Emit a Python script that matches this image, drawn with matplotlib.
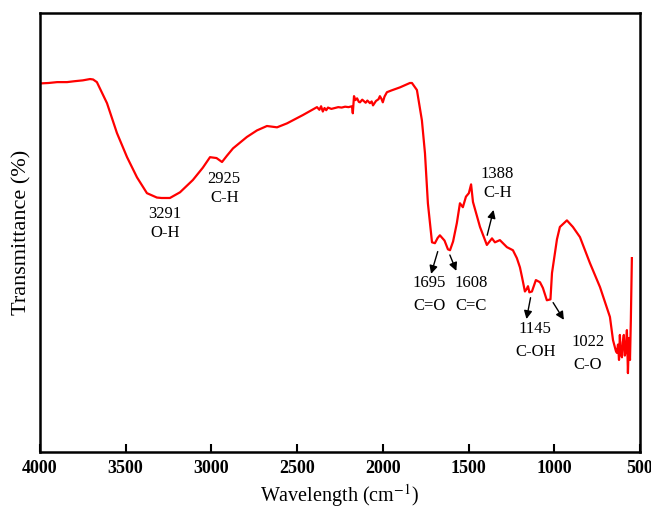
import matplotlib
matplotlib.use("Agg")
import matplotlib.pyplot as plt

plt.rcParams['font.family'] = ['Liberation Serif', 'DejaVu Serif']
plt.rcParams['mathtext.fontset'] = 'stix'

# FTIR spectrum (wavenumber cm-1, transmittance %)
wavenumber = [4000, 3950, 3900, 3842, 3800, 3750, 3708, 3690, 3668, 3640, 3609, 3551,
              3492, 3434, 3376, 3318, 3291, 3242, 3183, 3108, 3050, 3008, 2970,
              2938, 2910, 2874, 2793, 2734, 2676, 2617, 2559, 2466, 2384, 2370,
              2360, 2350, 2340, 2330, 2320, 2300, 2280, 2260, 2240, 2220, 2200,
              2180, 2175, 2168, 2160, 2150, 2140, 2133, 2120, 2100, 2090, 2075,
              2065, 2057, 2040, 2025, 2017, 2008, 2000, 1990, 1976, 1950, 1900,
              1860, 1842, 1830, 1801, 1772, 1754, 1737, 1713, 1696, 1680, 1667,
              1640, 1620, 1608, 1590, 1568, 1550, 1533, 1515, 1498, 1485, 1474,
              1433, 1393, 1363, 1346, 1317, 1276, 1241, 1218, 1200, 1188, 1171,
              1160, 1153, 1145, 1130, 1107, 1083, 1066, 1043, 1022, 1013, 984,
              967, 926, 891, 850, 792, 733, 675, 657, 640, 634, 628, 622, 617,
              612, 605, 600, 594, 588, 582, 576, 570, 564, 558, 553, 549, 547]
transmittance = [84.0, 84.1, 84.3, 84.3, 84.5, 84.7, 85.0, 84.9, 84.3, 82.0, 79.5, 72.7,
                 67.2, 62.6, 59.0, 58.0, 57.9, 57.9, 59.2, 62.0, 64.8, 67.2, 67.0,
                 66.1, 67.5, 69.2, 71.8, 73.3, 74.3, 74.0, 74.9, 76.8, 78.6, 78.0,
                 78.8, 77.6, 78.4, 77.9, 78.5, 78.2, 78.4, 78.6, 78.5, 78.7, 78.6,
                 78.8, 77.2, 81.1, 80.2, 80.6, 79.8, 79.7, 80.3, 79.6, 80.1, 79.5,
                 79.9, 79.0, 80.0, 80.4, 81.1, 80.5, 79.7, 81.0, 82.0, 82.4, 83.1,
                 83.8, 84.1, 84.1, 82.5, 75.6, 68.1, 56.7, 47.8, 47.6, 48.8, 49.4,
                 48.2, 46.2, 46.0, 48.0, 52.2, 56.7, 55.8, 58.2, 59.0, 61.0, 57.0,
                 51.3, 47.2, 48.7, 47.8, 48.3, 46.7, 46.0, 44.2, 42.1, 39.9, 36.6,
                 37.2, 37.8, 36.4, 36.6, 39.2, 38.7, 37.4, 34.6, 34.8, 40.8, 48.5,
                 51.3, 52.8, 51.3, 49.0, 43.1, 37.6, 30.8, 25.5, 23.0, 22.6, 24.5,
                 21.0, 26.7, 22.5, 21.6, 25.0, 26.7, 22.0, 23.2, 27.8, 18.0, 26.0,
                 21.0, 30.1, 40.0, 44.2]

peak_labels = ["3291\nO-H", "2925\nC-H", "1695\nC=O", "1608\nC=C",
               "1388\nC-H", "1145\nC-OH", "1022\nC-O"]

fig = plt.figure(figsize=(6.51, 5.08), dpi=100)
ax = fig.add_axes([0.0614, 0.110, 0.9216, 0.864])
ax.plot(wavenumber, transmittance, color='#ff0000', lw=1.6)
ax.set_xlim(4000, 500)
ax.set_ylim(0, 100)
ax.set_xticks([4000, 3500, 3000, 2500, 2000, 1500, 1000, 500])
ax.set_yticks([])
ax.tick_params(axis='x', direction='in', length=6, width=1.5, labelsize=13, pad=6)
for lab in ax.get_xticklabels():
    lab.set_fontweight('bold')
for sp in ax.spines.values():
    sp.set_linewidth(1.8)
ax.set_xlabel('Wavelength (cm$^{-1}$)', fontsize=14.5, labelpad=3)
ax.set_ylabel('Transmittance (%)', fontsize=16, labelpad=6)

fs = 12
ax.text(3270, 52.0, peak_labels[0], ha='center', va='center', fontsize=fs, linespacing=1.25)
ax.text(2925, 60.0, peak_labels[1], ha='center', va='center', fontsize=fs, linespacing=1.25)
arrow_kw = dict(arrowstyle='-|>', color='black', lw=1.0, mutation_scale=12)
ax.text(1727, 36.0, peak_labels[2], ha='center', va='center', fontsize=fs, linespacing=1.6)
ax.annotate('', xy=(1723, 40.0), xytext=(1675, 46.3), arrowprops=arrow_kw)
ax.text(1484, 36.0, peak_labels[3], ha='center', va='center', fontsize=fs, linespacing=1.6)
ax.annotate('', xy=(1565, 40.7), xytext=(1615, 45.5), arrowprops=arrow_kw)
ax.text(1330, 61.3, peak_labels[4], ha='center', va='center', fontsize=fs, linespacing=1.25)
ax.annotate('', xy=(1350, 55.8), xytext=(1395, 48.8), arrowprops=arrow_kw)
ax.text(1110, 25.5, peak_labels[5], ha='center', va='center', fontsize=fs, linespacing=1.6)
ax.annotate('', xy=(1165, 29.7), xytext=(1135, 35.8), arrowprops=arrow_kw)
ax.text(805, 22.5, peak_labels[6], ha='center', va='center', fontsize=fs, linespacing=1.6)
ax.annotate('', xy=(935, 29.6), xytext=(1015, 34.6), arrowprops=arrow_kw)

fig.savefig('out.png', dpi=100)
